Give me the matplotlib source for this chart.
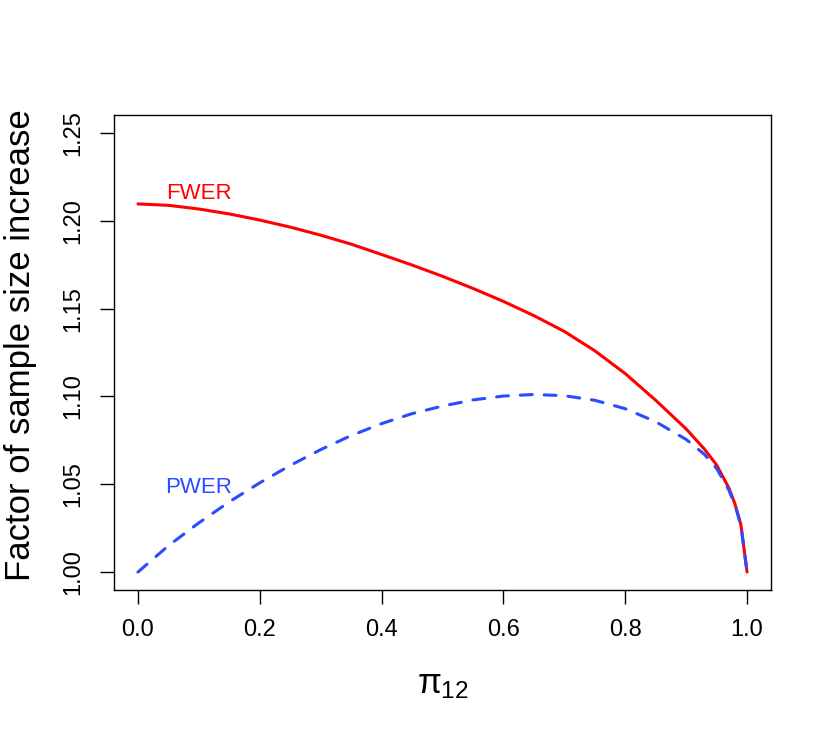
import matplotlib
matplotlib.use("Agg")
import matplotlib.pyplot as plt

# pi_12 grid and the two sample-size factors
pi12 = [0.0, 0.05, 0.1, 0.15, 0.2, 0.25, 0.3, 0.35, 0.4, 0.45, 0.5, 0.55,
        0.6, 0.65, 0.7, 0.75, 0.8, 0.85, 0.9, 0.93, 0.95, 0.97, 0.98, 0.99, 1.0]
fwer = [1.2096, 1.2088, 1.2067, 1.2039, 1.2004, 1.1964, 1.1918, 1.1867,
        1.1808, 1.1748, 1.1684, 1.1615, 1.1541, 1.1460, 1.1370, 1.1260,
        1.1130, 1.0978, 1.0815, 1.0700, 1.0610, 1.0480, 1.0390, 1.0268, 1.0]
pwer = [1.0, 1.0150, 1.0280, 1.0400, 1.0508, 1.0607, 1.0697, 1.0777,
        1.0845, 1.0902, 1.0945, 1.0980, 1.1002, 1.1011, 1.1004, 1.0978,
        1.0930, 1.0856, 1.0755, 1.0670, 1.0590, 1.0468, 1.0385, 1.0265, 1.0]

xticks = [0.0, 0.2, 0.4, 0.6, 0.8, 1.0]
yticks = [1.00, 1.05, 1.10, 1.15, 1.20, 1.25]

plt.rcParams["font.family"] = ["Liberation Sans", "DejaVu Sans"]
plt.rcParams["mathtext.fontset"] = "custom"
plt.rcParams["mathtext.rm"] = "Liberation Sans"
plt.rcParams["mathtext.it"] = "Liberation Sans"


def main():
    fig = plt.figure(figsize=(8.3, 7.32), dpi=100)
    W, H = 830, 732
    ax = fig.add_axes([113.6 / W, (H - 589.6) / H,
                       (771.4 - 113.6) / W, (589.6 - 115.4) / H])

    ax.plot(pi12, fwer, color="#ff0000", lw=2.2, solid_capstyle="round",
            solid_joinstyle="round")
    ax.plot(pi12, pwer, color="#2a4bff", lw=2.2,
            linestyle=(0, (3.9, 3.9)), dash_capstyle="round")

    ax.text(0.1, 1.2155, "FWER", color="#ff0000", fontsize=16,
            ha="center", va="center")
    ax.text(0.1, 1.0482, "PWER", color="#2a4bff", fontsize=16,
            ha="center", va="center")

    ax.set_xlim(-0.04, 1.04)
    ax.set_ylim(0.99, 1.26)
    ax.set_xticks(xticks)
    ax.set_xticklabels(["%.1f" % v for v in xticks])
    ax.set_yticks(yticks)
    ax.set_yticklabels(["%.2f" % v for v in yticks], rotation=90, va="center")

    ax.tick_params(direction="out", length=10, width=1, labelsize=17,
                   pad=11, color="black")
    for s in ax.spines.values():
        s.set_linewidth(1)

    ax.set_xlabel(r"$\pi_{12}$", fontsize=25)
    ax.set_ylabel("Factor of sample size increase", fontsize=25)
    ax.xaxis.set_label_coords(0.5, -0.2)
    ax.yaxis.set_label_coords(-0.142, 0.516)
    ax.xaxis.label.set_va("center")
    ax.yaxis.label.set_va("center")

    fig.savefig("out.png", dpi=100, facecolor="white")


if __name__ == "__main__":
    main()
